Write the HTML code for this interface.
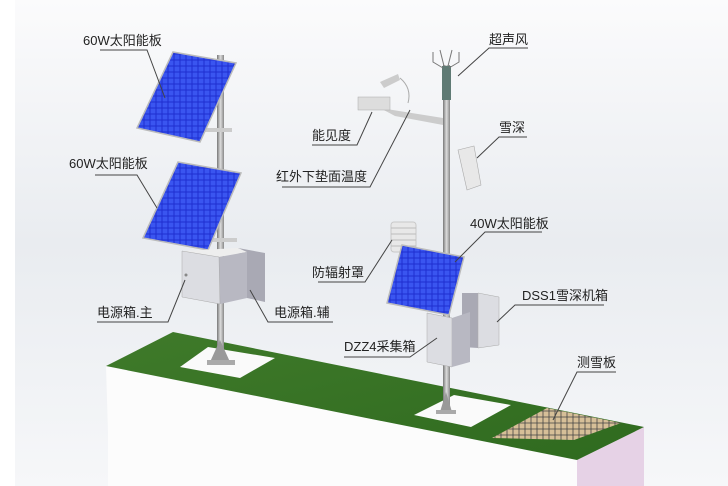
<!DOCTYPE html>
<html><head><meta charset="utf-8"><style>
html,body{margin:0;padding:0;width:728px;height:486px;overflow:hidden;background:#fff}
svg{display:block}
text{font-family:"Liberation Sans","Noto Sans CJK SC",sans-serif;font-size:13px;fill:#222}
</style></head><body>
<svg width="728" height="486" viewBox="0 0 728 486" xmlns="http://www.w3.org/2000/svg">
<defs>
<linearGradient id="bg" x1="0" y1="0" x2="0" y2="1">
<stop offset="0" stop-color="#fbfbfc"/><stop offset="0.5" stop-color="#e9ecf0"/><stop offset="1" stop-color="#f6f7f9"/></linearGradient>
<linearGradient id="grass" x1="0" y1="0" x2="1" y2="1">
<stop offset="0" stop-color="#3f7a2a"/><stop offset="1" stop-color="#2f6a1f"/></linearGradient>
<pattern id="cells" width="6" height="6" patternUnits="userSpaceOnUse">
<rect width="6" height="6" fill="#1f2fd0"/><rect x="0.5" y="0.5" width="5" height="5" fill="#3a55f0"/></pattern>
<pattern id="grid" width="6" height="6" patternUnits="userSpaceOnUse">
<rect width="6" height="6" fill="#d6bf98"/><path d="M0 3H6M3 0V6" stroke="#444" stroke-width="0.8"/></pattern>
<linearGradient id="pole" x1="0" x2="1"><stop offset="0" stop-color="#777"/><stop offset="0.5" stop-color="#ddd"/><stop offset="1" stop-color="#888"/></linearGradient>
</defs>
<rect x="15" y="0" width="713" height="486" fill="url(#bg)"/>
<!-- slab -->
<polygon points="106,366 577,460 577,486 108,486 108,432" fill="#fcfcfc"/>
<polygon points="577,460 644,427 644,486 577,486" fill="#e6d2e6"/>
<polygon points="173,332 644,427 577,460 106,366" fill="url(#grass)"/>
<polygon points="180,367 208,347 275,358 240,378" fill="#fafafa"/>
<polygon points="414,415 454,395 511,405 471,427" fill="#fafafa"/>
<polygon points="492,438 547,408 621,423 574,440" fill="url(#grid)"/>
<!-- left pole -->
<rect x="217" y="55" width="7" height="300" fill="url(#pole)"/>
<polygon points="210,362 220,340 230,362" fill="#999"/>
<rect x="207" y="360" width="28" height="5" fill="#aaa"/>
<rect x="205" y="128" width="27" height="4" fill="#ccc"/>
<rect x="210" y="238" width="27" height="4" fill="#ccc"/>
<polygon points="173,52 236,63 200,142 137,128" fill="url(#cells)" stroke="#bbb" stroke-width="1.5"/>
<polygon points="178,162 241,173 208,250 143,238" fill="url(#cells)" stroke="#bbb" stroke-width="1.5"/>
<polygon points="238,248 265,253 265,302 247,298 238,298" fill="#a9a9b4"/>
<polygon points="182,251 238,248 247,252 219,257" fill="#eee"/>
<polygon points="219,257 247,252 247,298 220,304" fill="#b8b8c2"/>
<polygon points="182,251 219,257 220,304 182,297" fill="#dcdde2" stroke="#aaa" stroke-width="0.5"/>
<circle cx="186" cy="275" r="1.5" fill="#888"/>
<!-- right pole -->
<rect x="443" y="65" width="7" height="345" fill="url(#pole)"/>
<rect x="442" y="66" width="9" height="34" fill="#5f7a74"/>
<path d="M433 52 v10 l10 6 M459 52 v10 l-10 6 M440 50 l4 16 M452 50 l-4 16" stroke="#777" fill="none"/>
<polygon points="440,412 446,392 452,412" fill="#999"/>
<rect x="436" y="410" width="20" height="4" fill="#aaa"/>
<polygon points="380,108 443,118 443,125 395,116" fill="#ccc"/>
<rect x="358" y="97" width="32" height="13" fill="#ddd" stroke="#aaa" stroke-width="0.5"/>
<polygon points="380,82 398,74 400,80 384,88" fill="#ccc"/>
<path d="M400 78 q12 10 8 25" stroke="#aaa" fill="none"/>
<polygon points="458,150 474,146 481,185 467,190" fill="#e8e8e8" stroke="#aaa" stroke-width="0.6"/>
<rect x="391" y="222" width="25" height="30" rx="3" fill="#e8e8e8" stroke="#c8c8c8"/>
<path d="M391 228h25M391 234h25M391 240h25M391 246h25" stroke="#bbb"/>
<polygon points="462,293 478,293 478,348 462,347" fill="#a9a9b4"/>
<polygon points="478,293 499,297 499,345 478,348" fill="#dcdde2" stroke="#aaa" stroke-width="0.5"/>
<polygon points="402,245 464,257 449,315 387,303" fill="url(#cells)" stroke="#bbb" stroke-width="1.5"/>
<polygon points="427,313 452,318 452,367 427,362" fill="#dcdde2" stroke="#aaa" stroke-width="0.5"/>
<polygon points="452,318 470,312 470,362 452,367" fill="#b8b8c2"/>
<!-- labels -->
<g stroke="#444" stroke-width="1" fill="none">
<path d="M100 50H147L165 98"/>
<path d="M95 175H137L157 208"/>
<path d="M312 145H357L372 112"/>
<path d="M282 187H370L410 110"/>
<path d="M318 282H365L392 240"/>
<path d="M97 322H168L185 280"/>
<path d="M333 322H268L250 290"/>
<path d="M344 357H410L437 338"/>
<path d="M528 48H489L458 76"/>
<path d="M527 137H499L477 158"/>
<path d="M542 232H485L455 262"/>
<path d="M604 305H515L497 322"/>
<path d="M616 372H577L553 420"/>
</g>
<text x="83" y="45">60W太阳能板</text>
<text x="69" y="168">60W太阳能板</text>
<text x="312" y="140">能见度</text>
<text x="276" y="181">红外下垫面温度</text>
<text x="312" y="277">防辐射罩</text>
<text x="97" y="317">电源箱.主</text>
<text x="274" y="317">电源箱.辅</text>
<text x="344" y="351">DZZ4采集箱</text>
<text x="489" y="44">超声风</text>
<text x="499" y="132">雪深</text>
<text x="470" y="228">40W太阳能板</text>
<text x="522" y="300">DSS1雪深机箱</text>
<text x="577" y="367">测雪板</text>
</svg>
</body></html>
